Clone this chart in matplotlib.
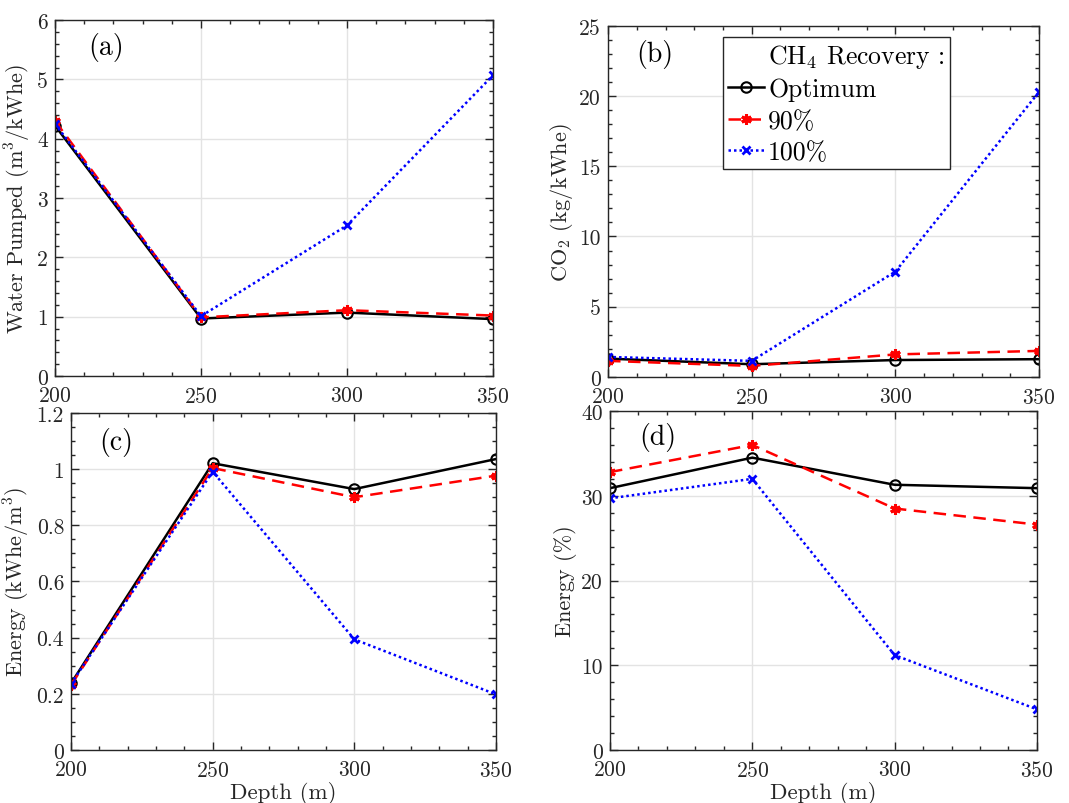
import numpy as np
import matplotlib
matplotlib.use("Agg")
import matplotlib.pyplot as plt
from matplotlib.lines import Line2D
from matplotlib.ticker import MultipleLocator, FuncFormatter

plt.rcParams['font.family'] = 'serif'
plt.rcParams['font.serif'] = ['cmr10']
plt.rcParams['mathtext.fontset'] = 'cm'
plt.rcParams['axes.formatter.use_mathtext'] = True
plt.rcParams['axes.unicode_minus'] = False

# Depth of the wells (m)
depth = [200, 250, 300, 350]

# Water pumped (m3/kWhe)
water_opt = [4.22, 0.97, 1.07, 0.96]
water_90 = [4.30, 0.99, 1.11, 1.02]
water_100 = [4.25, 1.01, 2.54, 5.07]

# CO2 emitted (kg/kWhe)
co2_opt = [1.30, 0.90, 1.20, 1.26]
co2_90 = [1.14, 0.78, 1.60, 1.85]
co2_100 = [1.42, 1.14, 7.50, 20.3]

# Energy per volume (kWhe/m3)
epv_opt = [0.237, 1.021, 0.929, 1.036]
epv_90 = [0.231, 1.004, 0.900, 0.977]
epv_100 = [0.235, 0.991, 0.394, 0.198]

# Energy share (%)
eff_opt = [30.9, 34.5, 31.3, 30.9]
eff_90 = [32.8, 36.0, 28.5, 26.6]
eff_100 = [29.7, 32.0, 11.2, 4.8]

labels = ['Optimum', '90%', '100%']
axc = '#262626'

styles = [
    dict(color='black', ls='-', marker='o', mfc='none', ms=7.5, mew=1.5, lw=1.8),
    dict(color='red', ls=(0, (5, 3)), marker=(6, 2, 0), ms=7.5, mew=2.2, lw=1.8),
    dict(color='blue', ls=(0, (1, 1.2)), marker='x', ms=6, mew=2, lw=1.8),
]

fig = plt.figure(figsize=(10.69, 8.04), dpi=100)
ax_a = fig.add_axes([0.0515, 0.531, 0.4097, 0.4428])
ax_b = fig.add_axes([0.5688, 0.530, 0.4032, 0.4366])
ax_c = fig.add_axes([0.0664, 0.0659, 0.3976, 0.4192])
ax_d = fig.add_axes([0.5706, 0.0659, 0.3994, 0.4216])

panels = [
    (ax_a, [water_opt, water_90, water_100], (0, 6), 1, 0.2,
     r'Water Pumped (m$^3$/kWhe)', '(a)', (0.075, 0.927)),
    (ax_b, [co2_opt, co2_90, co2_100], (0, 25), 5, 1,
     r'CO$_2$ (kg/kWhe)', '(b)', (0.065, 0.92)),
    (ax_c, [epv_opt, epv_90, epv_100], (0, 1.2), 0.2, 0.05,
     r'Energy (kWhe/m$^3$)', '(c)', (0.066, 0.914)),
    (ax_d, [eff_opt, eff_90, eff_100], (0, 40), 10, 2,
     r'Energy (%)', '(d)', (0.068, 0.926)),
]

for ax, series, ylim, major, minor, ylabel, tag, tagpos in panels:
    for vals, st in zip(series, styles):
        ax.plot(depth, vals, **st)
    ax.set_xlim(200, 350)
    ax.set_ylim(*ylim)
    ax.xaxis.set_major_locator(MultipleLocator(50))
    ax.xaxis.set_minor_locator(MultipleLocator(10))
    ax.yaxis.set_major_locator(MultipleLocator(major))
    ax.yaxis.set_minor_locator(MultipleLocator(minor))
    ax.yaxis.set_major_formatter(FuncFormatter(lambda v, p: f'{v:g}'))
    ax.grid(True, which='major', color='#e3e3e3', lw=1)
    ax.set_axisbelow(True)
    ax.tick_params(which='both', direction='in', top=True, right=True,
                   colors=axc, labelsize=15.5)
    ax.tick_params(axis='x', pad=7)
    ax.tick_params(axis='y', pad=5)
    ax.tick_params(which='major', length=6, width=1)
    ax.tick_params(which='minor', length=3, width=1)
    for s in ax.spines.values():
        s.set_color(axc)
        s.set_linewidth(1)
    ax.set_ylabel(ylabel, fontsize=16, color=axc, labelpad=3)
    ax.text(tagpos[0], tagpos[1], tag, transform=ax.transAxes,
            ha='left', va='center', fontsize=20, color='black')

ax_c.set_xlabel('Depth (m)', fontsize=16.5, color=axc, labelpad=1)
ax_d.set_xlabel('Depth (m)', fontsize=16.5, color=axc, labelpad=1)

# legend with a heading row that has no line
handles = [Line2D([], [], color='none')] + ax_b.get_lines()
leg = ax_b.legend(handles, [r'CH$_4$ Recovery :'] + labels,
                  loc='upper left', bbox_to_anchor=(0.267, 0.969),
                  fontsize=18.5, frameon=True, fancybox=False, framealpha=1,
                  edgecolor=axc, handlelength=1.4, handletextpad=0.15,
                  borderpad=0.2, labelspacing=0.3, borderaxespad=0)
leg.get_frame().set_linewidth(1)

fig.savefig('out.png', dpi=100)
